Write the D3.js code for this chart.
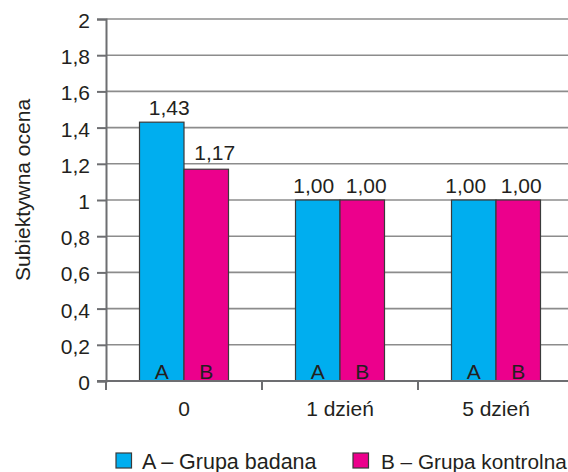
<!DOCTYPE html>
<html>
<head>
<meta charset="utf-8">
<script src="https://cdn.jsdelivr.net/npm/d3@7"></script>
<style>
  html, body { margin: 0; padding: 0; background: #fff; }
  svg { display: block; }
  text { font-family: "Liberation Sans", Arial, Helvetica, sans-serif; fill: #231f20; }
</style>
</head>
<body>
<svg id="chart" width="568" height="472"></svg>
<script>
// Categories (time points) and the two series
const categories = ["0", "1 dzień", "5 dzień"];
const seriesKeys = ["A", "B"];
const seriesNames = ["A – Grupa badana", "B – Grupa kontrolna"];
const valuesA = [1.43, 1.00, 1.00];
const valuesB = [1.17, 1.00, 1.00];
const yTicks = [0, 0.2, 0.4, 0.6, 0.8, 1, 1.2, 1.4, 1.6, 1.8, 2];
const yTitle = "Subiektywna ocena";

const colors = { A: "#00aeef", B: "#ec008c" };
const fontSize = "21px";
// Hand-placed nudges for the value labels (per category, per series), in px
const labelDx = { A: [7.5, -4, -8], B: [8.5, 4, 3] };
const labelDy = { A: [0, 0, 0], B: [-2, 0, 0] };

const plLocale = d3.formatLocale({ decimal: ",", thousands: " ", grouping: [3], currency: ["", " zł"] });
const fmtTick = plLocale.format("~g");
const fmtValue = plLocale.format(".2f");

const W = 568;
const svg = d3.select("#chart");
const plotLeft = 106, plotRight = 574, plotTop = 19, plotBottom = 381;

const x = d3.scaleBand().domain(categories).range([plotLeft, plotRight]).paddingInner(0).paddingOuter(0);
const xSub = d3.scaleBand().domain(seriesKeys).range([0, x.bandwidth()]).paddingInner(0).paddingOuter(0.753);
const y = d3.scaleLinear().domain([0, 2]).range([plotBottom, plotTop]);

const rows = categories.map((c, i) => ({ cat: c, idx: i, A: valuesA[i], B: valuesB[i] }));

// Horizontal gridlines
svg.append("g")
  .selectAll("line")
  .data(yTicks.filter(t => t > 0))
  .join("line")
  .attr("x1", plotLeft).attr("x2", W)
  .attr("y1", d => y(d)).attr("y2", d => y(d))
  .attr("stroke", "#8c8c8c").attr("stroke-width", 1.6);

// Y axis
const yAxis = svg.append("g")
  .attr("transform", `translate(${plotLeft},0)`)
  .call(d3.axisLeft(y).tickValues(yTicks).tickFormat(fmtTick).tickSize(9).tickPadding(7));
yAxis.select(".domain").attr("stroke", "#6d6e71").attr("stroke-width", 2);
yAxis.selectAll(".tick line").attr("stroke", "#6d6e71").attr("stroke-width", 2);
yAxis.selectAll(".tick text")
  .attr("dy", "0.4em")
  .style("font-family", '"Liberation Sans", Arial, sans-serif')
  .style("font-size", fontSize).attr("fill", "#231f20");

// Bars
const groups = svg.append("g")
  .selectAll("g")
  .data(rows)
  .join("g")
  .attr("transform", d => `translate(${x(d.cat)},0)`);

const cells = d => seriesKeys.map(k => ({ key: k, value: d[k], idx: d.idx }));

groups.selectAll("rect")
  .data(cells)
  .join("rect")
  .attr("x", d => xSub(d.key))
  .attr("y", d => y(d.value))
  .attr("width", xSub.bandwidth())
  .attr("height", d => y(0) - y(d.value))
  .attr("fill", d => colors[d.key])
  .attr("stroke", "#3a3a3a").attr("stroke-width", 1.2);

// Value labels above bars
groups.selectAll("text.val")
  .data(cells)
  .join("text")
  .attr("class", "val")
  .attr("x", d => xSub(d.key) + xSub.bandwidth() / 2 + labelDx[d.key][d.idx])
  .attr("y", d => y(d.value) - 7 + labelDy[d.key][d.idx])
  .attr("text-anchor", "middle")
  .style("font-size", fontSize)
  .text(d => fmtValue(d.value));

// Series letters inside bars
groups.selectAll("text.key")
  .data(cells)
  .join("text")
  .attr("class", "key")
  .attr("x", d => xSub(d.key) + xSub.bandwidth() / 2)
  .attr("y", plotBottom - 2.5)
  .attr("text-anchor", "middle")
  .style("font-size", fontSize)
  .text(d => d.key);

// X axis
const xAxis = svg.append("g")
  .attr("transform", `translate(0,${plotBottom})`);
xAxis.append("line")
  .attr("x1", plotLeft - 9).attr("x2", W)
  .attr("y1", 0).attr("y2", 0)
  .attr("stroke", "#6d6e71").attr("stroke-width", 2);
xAxis.selectAll("line.tick")
  .data(categories)
  .join("line")
  .attr("class", "tick")
  .attr("x1", d => x(d)).attr("x2", d => x(d))
  .attr("y1", 0).attr("y2", 9)
  .attr("stroke", "#6d6e71").attr("stroke-width", 2);
xAxis.selectAll("text")
  .data(categories)
  .join("text")
  .attr("x", d => x(d) + x.bandwidth() / 2)
  .attr("y", 35)
  .attr("text-anchor", "middle")
  .style("font-size", fontSize)
  .text(d => d);

// Y axis title
svg.append("text")
  .attr("transform", `translate(29.5,190) rotate(-90)`)
  .attr("text-anchor", "middle")
  .style("font-size", fontSize)
  .text(yTitle);

// Legend
const legendX = [116, 353];
const legendTextDx = [26, 28];
const legend = svg.append("g")
  .selectAll("g")
  .data(seriesKeys)
  .join("g")
  .attr("transform", (d, i) => `translate(${legendX[i]},453)`);
legend.append("rect")
  .attr("width", 15.5).attr("height", 15)
  .attr("fill", d => colors[d])
  .attr("stroke", "#3a3a3a").attr("stroke-width", 1.2);
legend.append("text")
  .attr("x", (d, i) => legendTextDx[i]).attr("y", 15.5)
  .style("font-size", "21.5px")
  .text((d, i) => seriesNames[i])
  .each(function (d, i) {
    // shrink a legend entry slightly if it would run past the right edge
    const avail = W - 1 - legendX[i] - legendTextDx[i];
    let size = 21.5;
    while (this.getComputedTextLength() > avail && size > 14) {
      size -= 0.25;
      d3.select(this).style("font-size", size + "px");
    }
  });
</script>
</body>
</html>
